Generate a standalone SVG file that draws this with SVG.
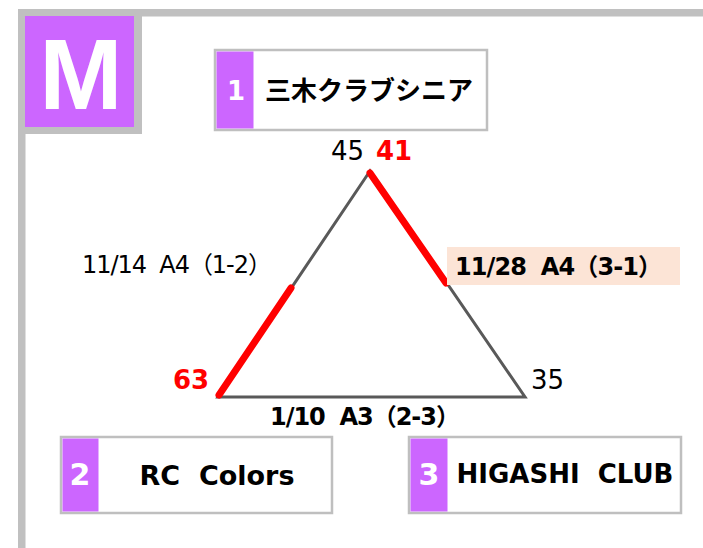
<svg xmlns="http://www.w3.org/2000/svg" width="703" height="548" viewBox="0 0 703 548">
<style>
.box{fill:#fff;stroke:#bfbfbf;stroke-width:2.5}
.tag{fill:#cc66ff}
.num{font-family:"DejaVu Sans",sans-serif;font-weight:bold;fill:#fff;text-anchor:middle}
.name{font-family:"DejaVu Sans","Noto Sans CJK JP",sans-serif;font-weight:bold;fill:#000;text-anchor:middle}
.lbl{font-family:"DejaVu Sans","Noto Sans CJK JP",sans-serif;font-size:24px;fill:#000;white-space:pre}
.sc{font-size:26px}
.b{font-weight:bold}
.red{fill:#ff0000;font-weight:bold}
.edge{stroke:#595959;stroke-width:3;fill:none}
.win{stroke:#ff0000;stroke-width:7;stroke-linecap:round;fill:none}
</style>
<rect x="0" y="0" width="703" height="548" fill="#fff"/>
<g id="frame">
<rect x="18" y="9" width="685" height="7.5" fill="#c0c0c0"/>
<rect x="18" y="9" width="7.5" height="539" fill="#c0c0c0"/>
<rect x="25" y="16" width="117" height="118" fill="#c0c0c0"/>
<rect x="25" y="16" width="109" height="111" fill="#cc66ff"/>
<text x="81" y="109" font-family="Liberation Sans, Arial, sans-serif" font-weight="bold" font-size="100" fill="#fff" text-anchor="middle">M</text>
</g>
<g id="connectors">
<polygon class="edge" points="370,171 218,397 525,397"/>
<line class="win" x1="370" y1="173" x2="446" y2="283"/>
<line class="win" x1="219" y1="395" x2="291" y2="288"/>
</g>
<g id="node1">
<rect class="box" x="215" y="50" width="272" height="80"/>
<rect class="tag" x="216.5" y="51.5" width="37" height="77"/>
<text class="num" x="236" y="100" font-size="26">1</text>
<text class="name" x="369" y="100" font-size="26" font-family="Noto Sans CJK JP, sans-serif">三木クラブシニア</text>
</g>
<g id="node2">
<rect class="box" x="61" y="437" width="271" height="76"/>
<rect class="tag" x="62.5" y="438.5" width="36" height="73"/>
<text class="num" x="80" y="485" font-size="30">2</text>
<text class="name" x="217" y="485" font-size="27" style="white-space:pre">RC  Colors</text>
</g>
<g id="node3">
<rect class="box" x="409" y="437" width="272" height="76"/>
<rect class="tag" x="410.5" y="438.5" width="37" height="73"/>
<text class="num" x="429" y="485" font-size="30">3</text>
<text class="name" x="565" y="483" font-size="26" style="white-space:pre">HIGASHI  CLUB</text>
</g>
<g id="scores">
<text class="lbl sc" x="331" y="160">45</text>
<text class="lbl sc red" x="376" y="160">41</text>
<text class="lbl sc red" x="173" y="389">63</text>
<text class="lbl sc" x="531" y="389">35</text>
</g>
<g id="edge-labels">
<text class="lbl" x="82" y="273" textLength="190" lengthAdjust="spacing">11/14  A4（1-2）</text>
<rect x="447" y="247" width="233" height="38" fill="#fce4d6"/>
<text class="lbl b" x="455" y="275" textLength="207" lengthAdjust="spacing">11/28  A4（3-1）</text>
<text class="lbl b" x="270" y="425" textLength="190" lengthAdjust="spacing">1/10  A3（2-3）</text>
</g>
</svg>
